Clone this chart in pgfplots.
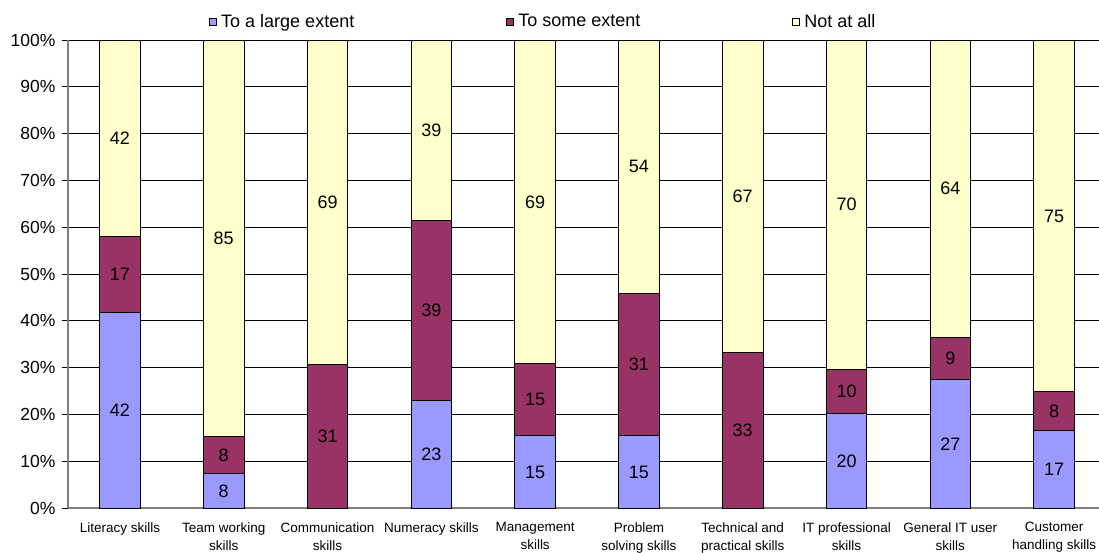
\documentclass[border=0pt]{standalone}
\usepackage{fontspec}
\setmainfont{Liberation Sans}
\usepackage{pgfplots}
\usepackage{pgfplotstable}
\pgfplotsset{compat=1.18}

\definecolor{cblue}{HTML}{9999FF}
\definecolor{cmaroon}{HTML}{993366}
\definecolor{cyellow}{HTML}{FFFFCC}
\definecolor{axgray}{HTML}{808080}

% a, b, c: segment heights in % ; la, lb, lc: printed values
\pgfplotstableread{
x a    b    c    la lb lc
0 41.7 16.4 41.9 42 17 42
1 7.3  7.9  84.8 8  8  85
2 0    30.6 69.4 0  31 69
3 22.9 38.6 38.5 23 39 39
4 15.4 15.4 69.2 15 15 69
5 15.4 30.5 54.1 15 31 54
6 0    33.3 66.7 0  33 67
7 20.1 9.6  70.3 20 10 70
8 27.4 9.1  63.5 27 9  64
9 16.5 8.3  75.2 17 8  75
}\data

\newcommand{\lblfont}{\fontsize{18}{21}\selectfont}

\begin{document}
\begin{tikzpicture}
% page = 1099 x 552; the plot area runs a little past the right edge, as in the original
\useasboundingbox (-68pt,-44pt) rectangle (1031pt,508pt);
\begin{axis}[
    at={(0pt,0pt)}, anchor=south west,
    scale only axis,
    width=1038pt, height=468pt,
    xmin=-0.5, xmax=9.5,
    ymin=0, ymax=100,
    axis x line*=bottom,
    axis y line*=left,
    axis line style={axgray, line width=1.2pt},
    ytick={0,10,...,100},
    yticklabel={\pgfmathprintnumber{\tick}\%},
    /pgf/number format/assume math mode=true,
    yticklabel style={font=\fontsize{17.5}{20}\selectfont, xshift=-3pt},
    ymajorgrids,
    grid style={black, line width=0.7pt},
    tick align=outside,
    major tick length=6pt,
    y tick style={black, line width=0.7pt},
    xtick={0,...,9},
    major x tick style={draw=none},
    xticklabels={Literacy skills, Team working\\skills, Communication\\skills,
      Numeracy skills, Management\\skills, Problem\\solving skills,
      Technical and\\practical skills, IT professional\\skills,
      General IT user\\skills, Customer\\handling skills},
    xticklabel style={font=\fontsize{13.5}{18}\selectfont, align=center, yshift=-5pt},
    extra x ticks={-0.5,0.5,...,9.5},
    extra x tick labels={},
    extra x tick style={major x tick style={axgray, line width=1pt}, grid=none},
    legend columns=3,
    legend style={draw=none, fill=none, at={(0.1358,1)}, anchor=south west,
      yshift=9pt, font=\fontsize{18}{21}\selectfont, inner sep=0pt,
      /tikz/every even column/.append style={column sep=150pt}},
    legend cell align=left,
    y filter/.expression={y<0.01 ? nan : y},
]
% bars drawn full height first, then overlaid
\addplot[forget plot, ybar, bar width=0.39, bar shift=0pt, fill=cyellow, draw=black, line width=0.9pt]
  table[x=x, y expr=\thisrow{a}+\thisrow{b}+\thisrow{c}] {\data};
\addplot[forget plot, ybar, bar width=0.39, bar shift=0pt, fill=cmaroon, draw=black, line width=0.9pt]
  table[x=x, y expr=\thisrow{a}+\thisrow{b}] {\data};
\addplot[forget plot, ybar, bar width=0.39, bar shift=0pt, fill=cblue, draw=black, line width=0.9pt]
  table[x=x, y=a] {\data};

% value labels, centred in each segment
\addplot[forget plot, draw=none, mark=none, nodes near coords, point meta=explicit symbolic,
  every node near coord/.append style={anchor=center, font=\lblfont}]
  table[x=x, y expr=\thisrow{a}/2, meta=la] {\data};
\addplot[forget plot, draw=none, mark=none, nodes near coords, point meta=explicit symbolic,
  every node near coord/.append style={anchor=center, font=\lblfont}]
  table[x=x, y expr=\thisrow{a}+\thisrow{b}/2, meta=lb] {\data};
\addplot[forget plot, draw=none, mark=none, nodes near coords, point meta=explicit symbolic,
  every node near coord/.append style={anchor=center, font=\lblfont}]
  table[x=x, y expr=\thisrow{a}+\thisrow{b}+\thisrow{c}/2, meta=lc] {\data};

\addlegendimage{legend image code/.code={\draw[fill=cblue, draw=black, line width=0.7pt] (0pt,-3.5pt) rectangle (7pt,3.5pt); \path (9.5pt,0pt);}}
\addlegendentry{To a large extent}
\addlegendimage{legend image code/.code={\draw[fill=cmaroon, draw=black, line width=0.7pt] (0pt,-3.5pt) rectangle (7pt,3.5pt); \path (9.5pt,0pt);}}
\addlegendentry{To some extent}
\addlegendimage{legend image code/.code={\draw[fill=cyellow, draw=black, line width=0.7pt] (0pt,-3.5pt) rectangle (7pt,3.5pt); \path (9.5pt,0pt);}}
\addlegendentry{Not at all}
\end{axis}
\end{tikzpicture}
\end{document}
